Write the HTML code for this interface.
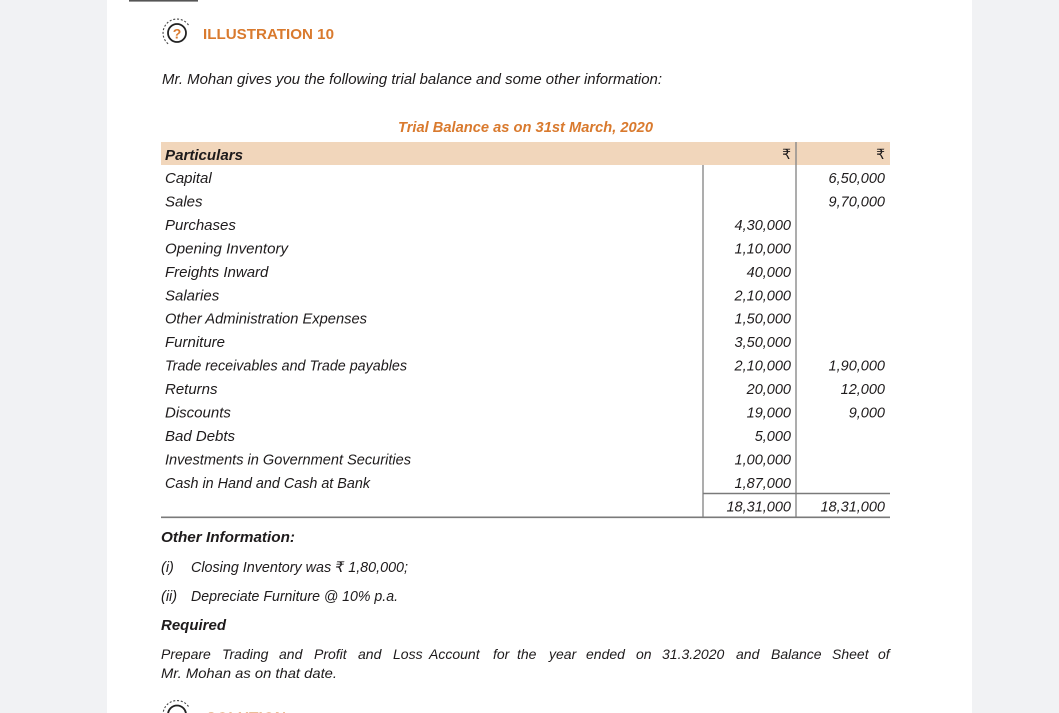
<!DOCTYPE html>
<html>
<head>
<meta charset="utf-8">
<style>
  html,body{margin:0;padding:0;width:1059px;height:713px;overflow:hidden;background:#f1f2f4;}
  svg{display:block;}
  text{font-family:"Liberation Sans","DejaVu Sans",sans-serif;fill:#1e1b1c;}
  .it{font-style:italic;font-size:15px;}
  .p{font-style:italic;font-size:14px;}
  .num{font-style:italic;font-size:14.5px;text-anchor:end;}
  .bi{font-style:italic;font-weight:bold;font-size:15px;}
  .or{fill:#d97a2e;font-weight:bold;}
  .ru{font-family:"DejaVu Sans","Liberation Sans",sans-serif;font-size:14px;text-anchor:end;}
</style>
</head>
<body>
<svg width="1059" height="713" viewBox="0 0 1059 713" xmlns="http://www.w3.org/2000/svg">
  <rect x="0" y="0" width="1059" height="713" fill="#f1f2f4"/>
  <rect x="107" y="0" width="865" height="713" fill="#ffffff"/>
  <rect x="129" y="0" width="69" height="1.6" fill="#555555"/>

  <!-- illustration icon -->
  <circle cx="177" cy="33" r="9" fill="none" stroke="#222" stroke-width="1.8"/>
  <path d="M188.5 25 A14 14 0 1 0 169 44.5" fill="none" stroke="#444" stroke-width="1.1" stroke-dasharray="2 1.8"/>
  <text x="177" y="38.5" text-anchor="middle" class="or" style="font-size:14px;">?</text>
  <text x="203" y="39" class="or" style="font-size:15px;" textLength="131" lengthAdjust="spacingAndGlyphs">ILLUSTRATION 10</text>

  <text x="162" y="84" class="it" textLength="500" lengthAdjust="spacingAndGlyphs">Mr. Mohan gives you the following trial balance and some other information:</text>

  <text x="398" y="132" class="or" style="font-style:italic;font-size:15px;" textLength="255" lengthAdjust="spacingAndGlyphs">Trial Balance as on 31st March, 2020</text>

  <rect x="161" y="142" width="729" height="23" fill="#f1d6bb"/>
  <text x="165" y="160" class="bi" textLength="78" lengthAdjust="spacingAndGlyphs">Particulars</text>
  <text x="791" y="159" class="ru">₹</text>
  <text x="885" y="159" class="ru">₹</text>

  <line x1="703" y1="165" x2="703" y2="517" stroke="#8a8a8a" stroke-width="1.4"/>
  <line x1="796" y1="142" x2="796" y2="517" stroke="#8a8a8a" stroke-width="1.4"/>
  <line x1="703" y1="493.5" x2="890" y2="493.5" stroke="#7a7a7a" stroke-width="1.4"/>
  <line x1="161" y1="517.3" x2="890" y2="517.3" stroke="#7a7a7a" stroke-width="1.6"/>

  <text x="165" y="183" class="it">Capital</text>
  <text x="165" y="206.5" class="it">Sales</text>
  <text x="165" y="229.9" class="it">Purchases</text>
  <text x="165" y="253.4" class="it" textLength="123" lengthAdjust="spacingAndGlyphs">Opening Inventory</text>
  <text x="165" y="276.8" class="it">Freights Inward</text>
  <text x="165" y="300.3" class="it">Salaries</text>
  <text x="165" y="323.7" class="it" textLength="202" lengthAdjust="spacingAndGlyphs">Other Administration Expenses</text>
  <text x="165" y="347.2" class="it">Furniture</text>
  <text x="165" y="370.6" class="it" textLength="242" lengthAdjust="spacingAndGlyphs">Trade receivables and Trade payables</text>
  <text x="165" y="394.1" class="it">Returns</text>
  <text x="165" y="417.5" class="it">Discounts</text>
  <text x="165" y="441" class="it">Bad Debts</text>
  <text x="165" y="464.4" class="it" textLength="246" lengthAdjust="spacingAndGlyphs">Investments in Government Securities</text>
  <text x="165" y="487.9" class="it" textLength="205" lengthAdjust="spacingAndGlyphs">Cash in Hand and Cash at Bank</text>

  <text x="791" y="229.9" class="num">4,30,000</text>
  <text x="791" y="253.4" class="num">1,10,000</text>
  <text x="791" y="276.8" class="num">40,000</text>
  <text x="791" y="300.3" class="num">2,10,000</text>
  <text x="791" y="323.7" class="num">1,50,000</text>
  <text x="791" y="347.2" class="num">3,50,000</text>
  <text x="791" y="370.6" class="num">2,10,000</text>
  <text x="791" y="394.1" class="num">20,000</text>
  <text x="791" y="417.5" class="num">19,000</text>
  <text x="791" y="441" class="num">5,000</text>
  <text x="791" y="464.4" class="num">1,00,000</text>
  <text x="791" y="487.9" class="num">1,87,000</text>
  <text x="791" y="511.5" class="num">18,31,000</text>

  <text x="885" y="183" class="num">6,50,000</text>
  <text x="885" y="206.5" class="num">9,70,000</text>
  <text x="885" y="370.6" class="num">1,90,000</text>
  <text x="885" y="394.1" class="num">12,000</text>
  <text x="885" y="417.5" class="num">9,000</text>
  <text x="885" y="511.5" class="num">18,31,000</text>

  <text x="161" y="542" class="bi" textLength="134" lengthAdjust="spacingAndGlyphs">Other Information:</text>
  <text x="161" y="572" class="it" style="font-size:14.5px;">(i)</text>
  <text x="191" y="572" class="it" style="font-size:14.5px;" textLength="217" lengthAdjust="spacingAndGlyphs">Closing Inventory was ₹ 1,80,000;</text>
  <text x="161" y="601" class="it" style="font-size:14.5px;">(ii)</text>
  <text x="191" y="601" class="it" style="font-size:14.5px;" textLength="207" lengthAdjust="spacingAndGlyphs">Depreciate Furniture @ 10% p.a.</text>
  <text x="161" y="630" class="bi" textLength="65" lengthAdjust="spacingAndGlyphs">Required</text>

  <text x="161" y="659" class="p">Prepare</text>
  <text x="222" y="659" class="p">Trading</text>
  <text x="279" y="659" class="p">and</text>
  <text x="314" y="659" class="p">Profit</text>
  <text x="358" y="659" class="p">and</text>
  <text x="393" y="659" class="p">Loss</text>
  <text x="429" y="659" class="p">Account</text>
  <text x="493" y="659" class="p">for</text>
  <text x="517" y="659" class="p">the</text>
  <text x="549" y="659" class="p">year</text>
  <text x="586" y="659" class="p">ended</text>
  <text x="636" y="659" class="p">on</text>
  <text x="662" y="659" class="p">31.3.2020</text>
  <text x="736" y="659" class="p">and</text>
  <text x="771" y="659" class="p">Balance</text>
  <text x="832" y="659" class="p">Sheet</text>
  <text x="878" y="659" class="p">of</text>
  <text x="161" y="678" class="p" textLength="176" lengthAdjust="spacingAndGlyphs">Mr. Mohan as on that date.</text>

  <circle cx="177" cy="714.5" r="9" fill="none" stroke="#222" stroke-width="1.8"/>
  <path d="M188.5 706.5 A14 14 0 1 0 169 726" fill="none" stroke="#444" stroke-width="1.1" stroke-dasharray="2 1.8"/>
  <text x="206" y="722.5" class="or" style="font-size:15px;" textLength="80" lengthAdjust="spacingAndGlyphs">SOLUTION</text>
</svg>
</body>
</html>
